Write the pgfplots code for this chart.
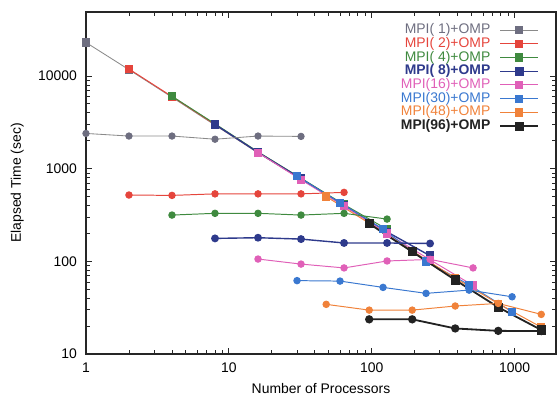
\documentclass[border=0pt]{standalone}
\usepackage{pgfplots}
\pgfplotsset{compat=1.18}
\usepackage{fontspec}
\setmainfont{Liberation Sans}
\definecolor{cgray}{HTML}{6E6E80}
\definecolor{cgrayl}{HTML}{8A8A8A}
\definecolor{cred}{HTML}{E5453C}
\definecolor{cgreen}{HTML}{3F8A3F}
\definecolor{cnavy}{HTML}{2E3A8C}
\definecolor{cpink}{HTML}{E060B8}
\definecolor{cblue}{HTML}{3A78D0}
\definecolor{corange}{HTML}{F0823A}
\definecolor{cblack}{HTML}{222222}
\begin{document}
\begin{tikzpicture}
\begin{axis}[
  name=ax,
  scale only axis,
  width=336.3bp, height=244.7bp,
  xmode=log, ymode=log,
  xmin=1, xmax=1950, ymin=10, ymax=49000,
  xtick={1,10,100,1000}, xticklabels={1,10,100,1000},
  ytick={10,100,1000,10000}, yticklabels={10,100,1000,10000},
  xticklabel style={yshift=-3bp},
  yticklabel style={xshift=-3bp},
  axis line style={line width=0.9bp, black!85},
  every tick/.style={line width=0.6bp, black!85},
  tick align=inside,
  xlabel={Number of Processors},
  ylabel={Elapsed Time (sec)},
  xlabel style={at={(axis description cs:0.5,-0.102)}, anchor=center},
  ylabel style={at={(axis description cs:-0.146,0.5)}, anchor=center},
  legend plot pos=right,
  legend cell align=right,
  legend image code/.code={\draw[mark=none] (0cm,0cm) -- (0.96cm,0cm); \draw plot coordinates {(0.48cm,0cm)};},
  legend style={at={(axis description cs:0.964,0.967)}, anchor=north east, draw=none, fill=none,
    inner sep=0pt, outer sep=0pt, row sep=0pt, column sep=6bp,
    nodes={inner sep=0.4bp, text height=7bp, text depth=2bp}},
  sqr/.style={mark=square*, mark size=2.6bp},
  crc/.style={mark=*, mark size=2.3bp},
]
% ---- square (diagonal) series, in legend ----
\addplot[cgrayl, line width=0.6bp, sqr, mark options={fill=cgray, draw=cgray}] coordinates {(1,23000)(2,11700)(4,5900)(8,2950)(16,1480)(32,770)};
\addlegendentry{\textcolor{cgray}{MPI( 1)+OMP}}
\addplot[cred, line width=0.7bp, sqr, mark options={fill=cred}] coordinates {(2,11900)(4,6000)(8,3000)(16,1500)(32,780)(64,400)};
\addlegendentry{\textcolor{cred}{MPI( 2)+OMP}}
\addplot[cgreen, line width=0.7bp, sqr, mark options={fill=cgreen}] coordinates {(4,6050)(8,3050)(16,1520)(32,790)(64,410)(128,222)};
\addlegendentry{\textcolor{cgreen}{MPI( 4)+OMP}}
\addplot[cnavy, line width=1bp, sqr, mark options={fill=cnavy}] coordinates {(8,3000)(16,1500)(32,780)(64,400)(128,208)(256,115)};
\addlegendentry{\textcolor{cnavy}{\bfseries MPI( 8)+OMP}}
\addplot[cpink, line width=0.7bp, sqr, mark options={fill=cpink}] coordinates {(16,1490)(32,760)(64,395)(128,200)(256,104)(512,55)};
\addlegendentry{\textcolor{cpink}{MPI(16)+OMP}}
\addplot[cblue, line width=0.7bp, sqr, mark options={fill=cblue}] coordinates {(30,830)(60,430)(120,222)(240,100)(480,56)(960,28.5)};
\addlegendentry{\textcolor{cblue}{MPI(30)+OMP}}
\addplot[corange, line width=0.7bp, sqr, mark options={fill=corange}] coordinates {(48,500)(96,258)(192,130)(384,66)(768,35)(1536,19.5)};
\addlegendentry{\textcolor{corange}{MPI(48)+OMP}}
\addplot[cblack, line width=1.3bp, sqr, mark options={fill=cblack}] coordinates {(96,255)(192,127)(384,63)(768,32)(1536,18.2)};
\addlegendentry{\textcolor{cblack}{\bfseries MPI(96)+OMP}}
% ---- circle (flat) series ----
\addplot[forget plot, cgrayl, line width=0.6bp, crc, mark options={fill=cgray, draw=cgray}] coordinates {(1,2400)(2,2250)(4,2250)(8,2080)(16,2250)(32,2230)};
\addplot[forget plot, cred, line width=0.7bp, crc, mark options={fill=cred}] coordinates {(2,520)(4,515)(8,535)(16,535)(32,535)(64,555)};
\addplot[forget plot, cgreen, line width=0.7bp, crc, mark options={fill=cgreen}] coordinates {(4,316)(8,330)(16,330)(32,316)(64,330)(128,286)};
\addplot[forget plot, cnavy, line width=1bp, crc, mark options={fill=cnavy}] coordinates {(8,177)(16,180)(32,174)(64,158)(128,158)(256,156)};
\addplot[forget plot, cpink, line width=0.7bp, crc, mark options={fill=cpink}] coordinates {(16,106)(32,93.5)(64,85)(128,101)(256,105)(512,85)};
\addplot[forget plot, cblue, line width=0.7bp, crc, mark options={fill=cblue}] coordinates {(30,62)(60,61.3)(120,52.4)(240,45.2)(480,49)(960,41.5)};
\addplot[forget plot, corange, line width=0.7bp, crc, mark options={fill=corange}] coordinates {(48,34.4)(96,29.8)(192,29.8)(384,33)(768,35.2)(1536,26.8)};
\addplot[forget plot, cblack, line width=1.3bp, crc, mark options={fill=cblack}] coordinates {(96,23.7)(192,23.7)(384,18.9)(768,17.8)(1536,17.7)};
\end{axis}
\path (ax.south west) ++(-61.5bp,-32.2bp) coordinate (bl);
\path (ax.north east) ++(2.1bp,8.6bp) coordinate (tr);
\path (bl) rectangle (tr);
\end{tikzpicture}
\end{document}
